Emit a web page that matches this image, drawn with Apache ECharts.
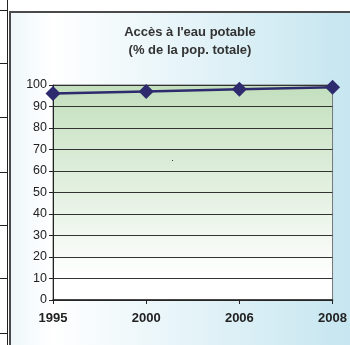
<!DOCTYPE html>
<html><head><meta charset="utf-8">
<script src="https://cdn.jsdelivr.net/npm/echarts@6/dist/echarts.min.js"></script>
<style>html,body{margin:0;padding:0;background:#fff}#c{width:350px;height:345px}</style>
</head><body><div id="c"></div>
<script>
const years = ['1995', '2000', '2006', '2008'];
const accessValues = [96, 97, 98, 99];
const titleLines = ["Accès à l'eau potable", "(% de la pop. totale)"];

const chart = echarts.init(document.getElementById('c'), null, {renderer: 'canvas'});
const tableRows = [10, 63, 117, 172, 225, 278, 333];
const graphics = [
  {type: 'rect', z: -10, shape: {x: 10, y: 12, width: 360, height: 360},
   style: {fill: new echarts.graphic.LinearGradient(0, 0, 1, 0, [
     {offset: 0, color: '#eef7fa'}, {offset: 0.12, color: '#ffffff'}, {offset: 1, color: '#c2e4ef'}]),
     stroke: '#4a4a4a', lineWidth: 2}},
  {type: 'line', shape: {x1: 7.5, y1: 0, x2: 7.5, y2: 345}, style: {stroke: '#222', lineWidth: 1}},
  {type: 'text', style: {text: titleLines[0], x: 190, y: 32, textAlign: 'center', textVerticalAlign: 'middle', font: 'bold 13px "Liberation Sans", Arial', fill: '#333'}},
  {type: 'text', style: {text: titleLines[1], x: 190, y: 50, textAlign: 'center', textVerticalAlign: 'middle', font: 'bold 13px "Liberation Sans", Arial', fill: '#333'}},
  {type: 'rect', shape: {x: 172, y: 160, width: 1, height: 1}, style: {fill: '#333'}}
];
tableRows.forEach(y => graphics.push({type: 'line', shape: {x1: 0, y1: y + 0.5, x2: 7.5, y2: y + 0.5}, style: {stroke: '#222', lineWidth: 1}}));

chart.setOption({
  animation: false,
  backgroundColor: '#ffffff',
  graphic: graphics,
  grid: {left: 53, right: 12, top: 85, bottom: 45, show: true, borderColor: '#777', borderWidth: 1,
    backgroundColor: new echarts.graphic.LinearGradient(0, 0, 0, 1, [
      {offset: 0, color: '#c2dfbd'}, {offset: 0.9, color: '#ffffff'}, {offset: 1, color: '#ffffff'}])},
  xAxis: {type: 'category', data: years, boundaryGap: false,
    axisLine: {lineStyle: {color: '#222', width: 1.5}},
    axisTick: {show: true, length: 4, lineStyle: {color: '#222'}},
    axisLabel: {color: '#222', fontSize: 13, fontWeight: 'bold', fontFamily: '"Liberation Sans", Arial', margin: 12}},
  yAxis: {type: 'value', min: 0, max: 100, interval: 10,
    axisLine: {show: true, lineStyle: {color: '#222', width: 1}},
    axisTick: {show: true, length: 4, lineStyle: {color: '#222'}},
    splitLine: {lineStyle: {color: '#333', width: 1}},
    axisLabel: {color: '#222', fontSize: 12.5, fontFamily: '"Liberation Sans", Arial', margin: 6}},
  series: [{type: 'line', data: accessValues, symbol: 'diamond', symbolSize: 15,
    lineStyle: {color: '#2e2a6e', width: 2.5}, itemStyle: {color: '#2e2a6e'}}]
});
</script></body></html>
